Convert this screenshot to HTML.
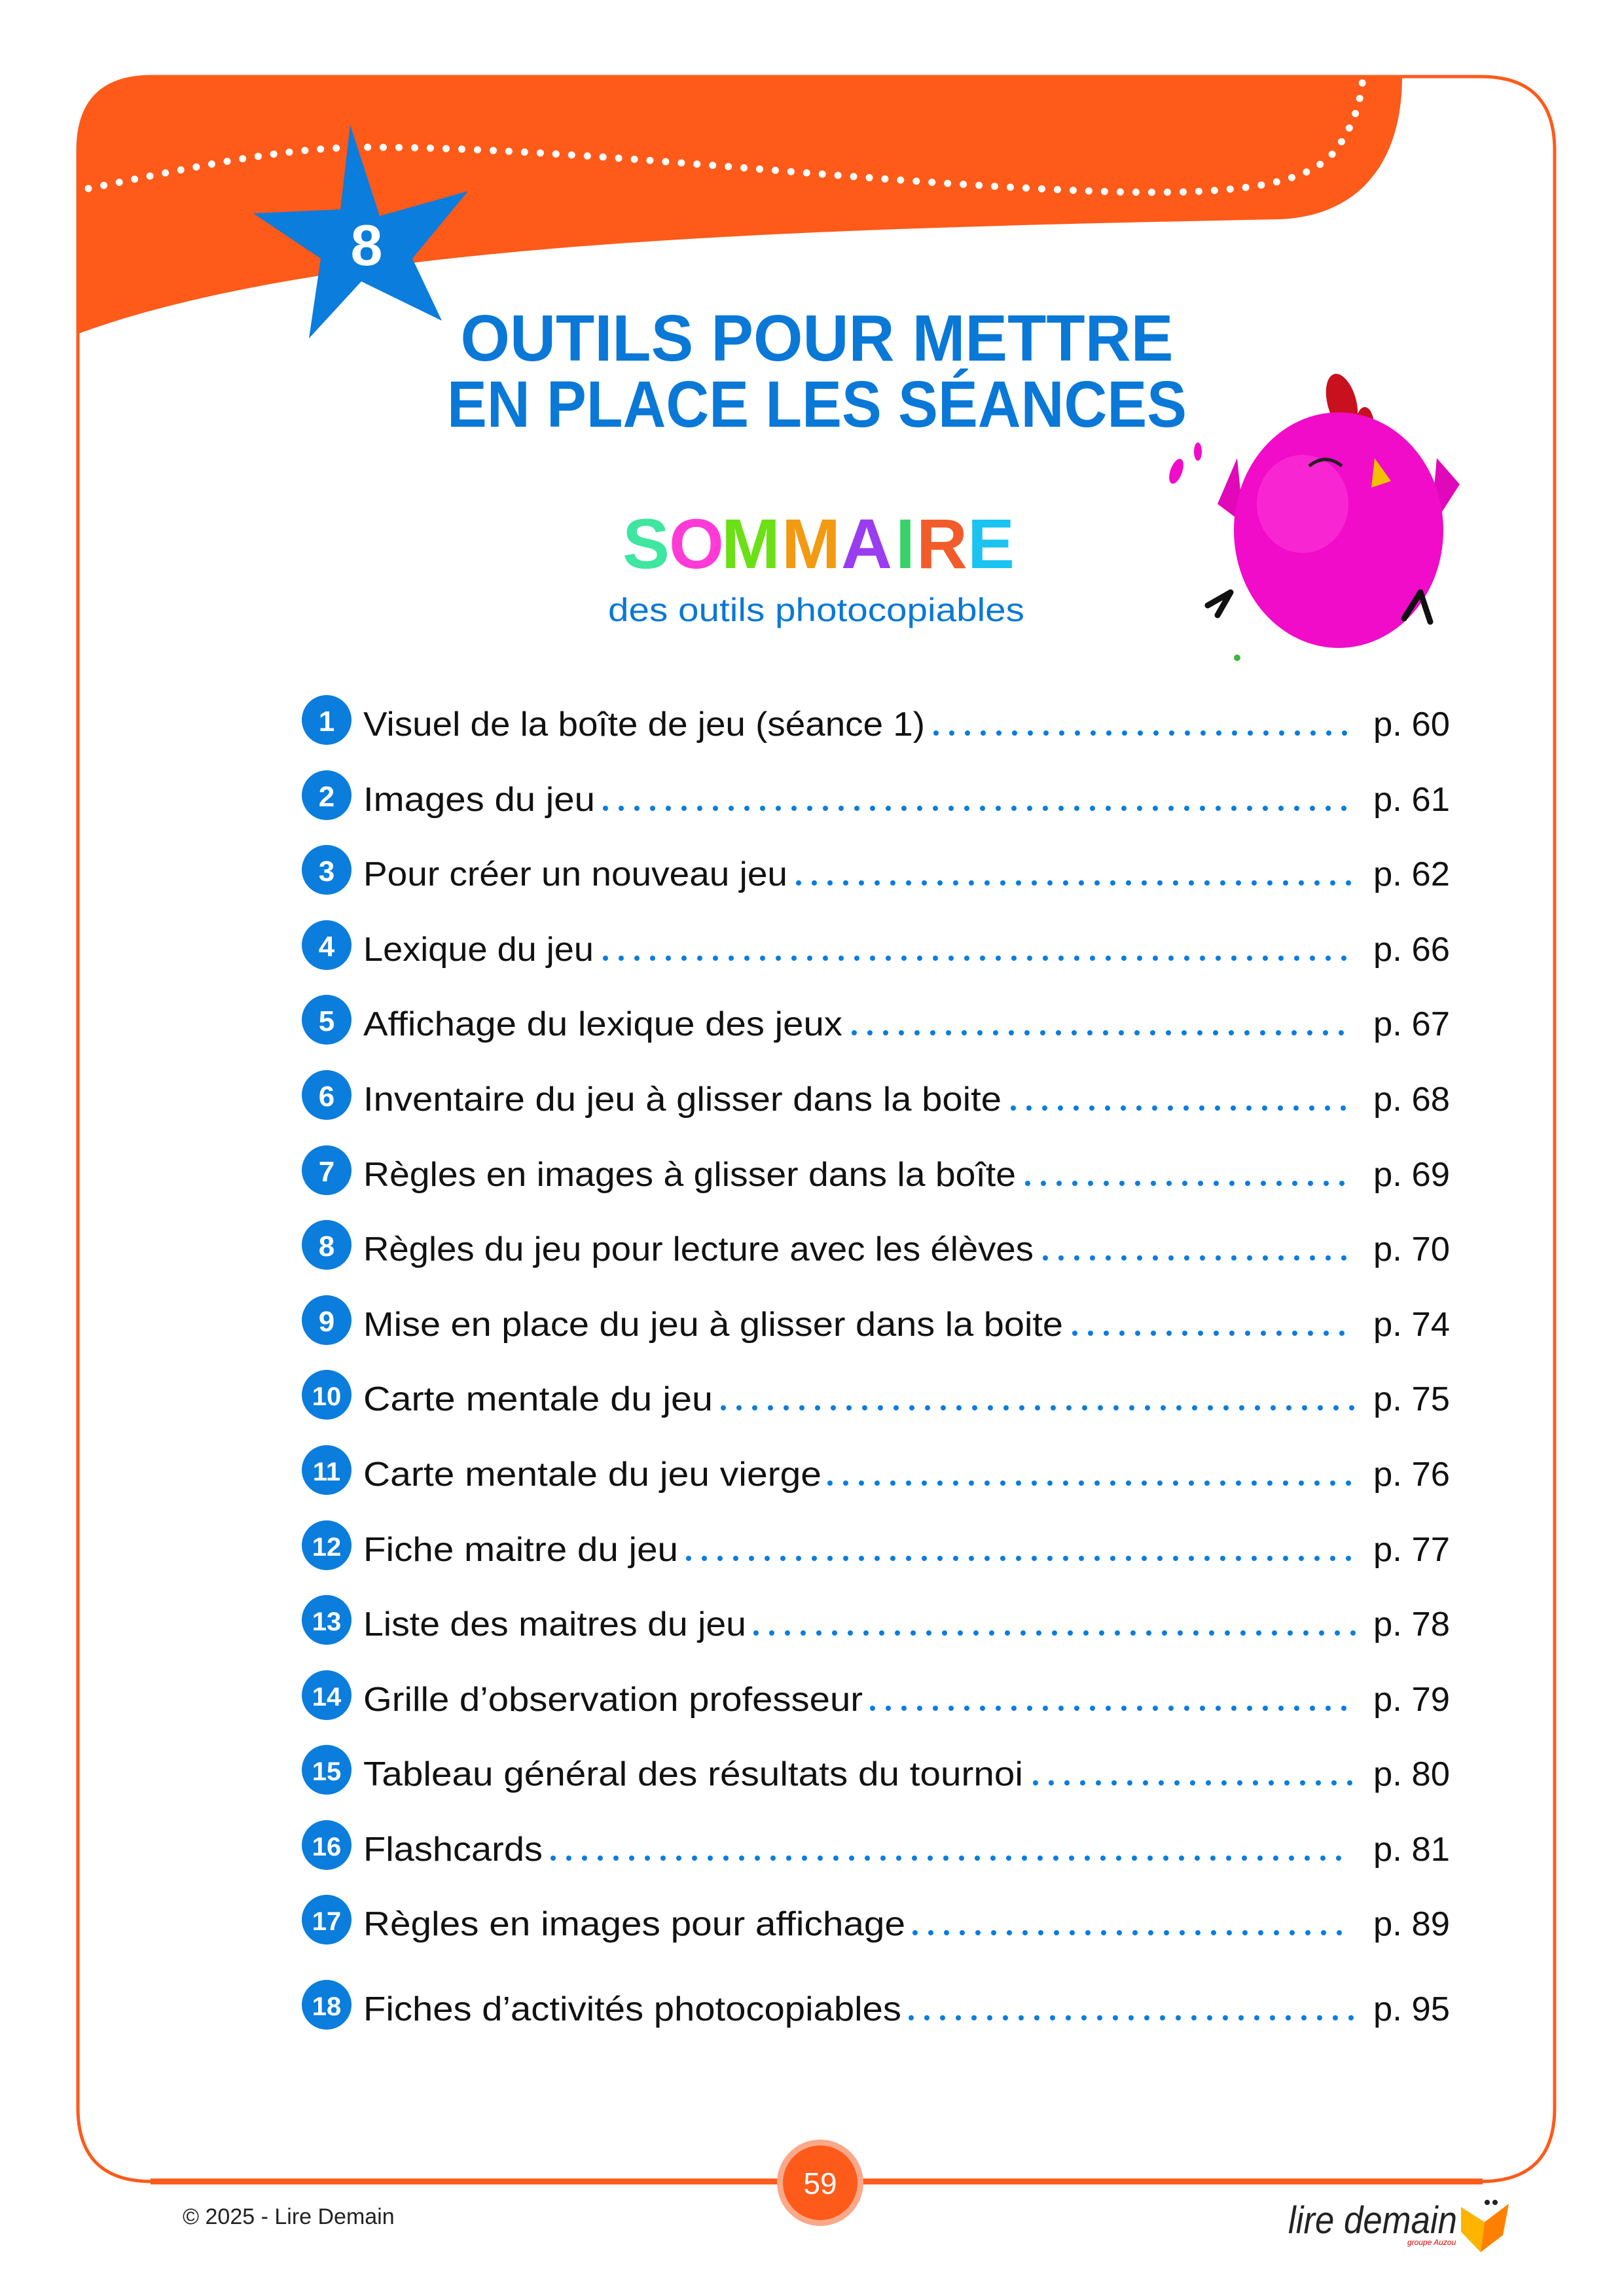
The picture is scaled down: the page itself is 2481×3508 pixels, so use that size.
<!DOCTYPE html>
<html><head><meta charset="utf-8"><style>
html,body{margin:0;padding:0;background:#fff}
svg{display:block}
</style></head><body>
<svg width="2481" height="3508" viewBox="0 0 2481 3508" xmlns="http://www.w3.org/2000/svg" font-family="Liberation Sans, sans-serif">
<rect width="2481" height="3508" fill="#fff"/>
<path d="M119,230 Q119,117 232,117 L2262,117 Q2375,117 2375,230 L2375,3220 Q2375,3333 2262,3333 L232,3333 Q119,3333 119,3220 Z" fill="none" stroke="#fe5a1a" stroke-width="5"/>
<line x1="230" y1="3333" x2="2265" y2="3333" stroke="#fe5a1a" stroke-width="9"/>
<path d="M119,230 Q119,117 232,117 L2142,117 C2142,250 2075,330 1955,335 C1200,350 500,370 119,510 Z" fill="#fe5a1a"/>
<path d="M135,288 C300,255 430,225 562,225 C900,225 1300,280 1700,293 C1900,298 2000,280 2040,230 C2070,190 2080,150 2082,117" fill="none" stroke="#fff" stroke-width="11" stroke-linecap="round" stroke-dasharray="0 24"/>
<polygon points="535,191 580,330 715,292 630,395 675,490 552,430 472,517 490,395 387,326 520,320" fill="#0a7ddd"/>
<text x="560" y="405" font-size="88" font-weight="bold" fill="#fff" text-anchor="middle">8</text>
<text x="1248" y="551" font-size="100" font-weight="bold" fill="#0a78d7" text-anchor="middle" textLength="1089" lengthAdjust="spacingAndGlyphs">OUTILS POUR METTRE</text>
<text x="1248" y="652" font-size="100" font-weight="bold" fill="#0a78d7" text-anchor="middle" textLength="1130" lengthAdjust="spacingAndGlyphs">EN PLACE LES SÉANCES</text>
<g font-size="108" font-weight="bold">
<text x="951" y="868" fill="#3ee6a0">S</text>
<text x="1022" y="868" fill="#ff3ad6">O</text>
<text x="1102" y="868" fill="#6be016">M</text>
<text x="1194" y="868" fill="#f29a12">M</text>
<text x="1285" y="868" fill="#9a3cf0">A</text>
<text x="1368" y="868" fill="#3bd16a">I</text>
<text x="1400" y="868" fill="#f25c2a">R</text>
<text x="1478" y="868" fill="#1bc3f0">E</text>
</g>
<text x="929" y="949" font-size="50" fill="#0a78d7" textLength="636" lengthAdjust="spacingAndGlyphs">des outils photocopiables</text>
<g>
<ellipse cx="2050" cy="615" rx="22" ry="45" fill="#c8101e" transform="rotate(-15 2050 615)"/>
<ellipse cx="2085" cy="650" rx="14" ry="28" fill="#c8101e"/>
<polygon points="1890,700 1860,770 1900,800" fill="#e008b8"/>
<polygon points="2195,700 2230,740 2185,810" fill="#e008b8"/>
<ellipse cx="2045" cy="810" rx="160" ry="180" fill="#f00cc8"/>
<ellipse cx="1990" cy="770" rx="70" ry="75" fill="#ff40dc" opacity="0.5"/>
<polygon points="2100,700 2125,735 2095,745" fill="#f2c000"/>
<path d="M2000,712 q25,-20 50,0" fill="none" stroke="#222" stroke-width="5"/>
<path d="M1880,905 l-35,20 m35,-20 l-20,35 M2170,905 l15,45 m-15,-45 l-25,40" stroke="#111" stroke-width="9" fill="none" stroke-linecap="round"/>
<ellipse cx="1797" cy="720" rx="9" ry="20" fill="#f00cc8" transform="rotate(20 1797 720)"/>
<ellipse cx="1830" cy="690" rx="6" ry="14" fill="#f00cc8"/>
<circle cx="1890" cy="1005" r="5" fill="#3bb83b"/>
</g>
<g>
<circle cx="499" cy="1100" r="38" fill="#0a7ddd"/><text x="499" y="1117" font-size="44" font-weight="bold" fill="#fff" text-anchor="middle">1</text>
<text x="555" y="1124" font-size="52" fill="#111" textLength="858" lengthAdjust="spacingAndGlyphs">Visuel de la boîte de jeu (séance 1)</text>
<line x1="1430" y1="1120" x2="2069" y2="1120" stroke="#0a7ddd" stroke-width="8" stroke-linecap="round" stroke-dasharray="0 24"/>
<text x="2098" y="1124" font-size="52" fill="#111" textLength="117" lengthAdjust="spacingAndGlyphs">p. 60</text>

<circle cx="499" cy="1215" r="38" fill="#0a7ddd"/><text x="499" y="1232" font-size="44" font-weight="bold" fill="#fff" text-anchor="middle">2</text>
<text x="555" y="1239" font-size="52" fill="#111" textLength="354" lengthAdjust="spacingAndGlyphs">Images du jeu</text>
<line x1="925" y1="1235" x2="2069" y2="1235" stroke="#0a7ddd" stroke-width="8" stroke-linecap="round" stroke-dasharray="0 24"/>
<text x="2098" y="1239" font-size="52" fill="#111" textLength="117" lengthAdjust="spacingAndGlyphs">p. 61</text>

<circle cx="499" cy="1329" r="38" fill="#0a7ddd"/><text x="499" y="1346" font-size="44" font-weight="bold" fill="#fff" text-anchor="middle">3</text>
<text x="555" y="1353" font-size="52" fill="#111" textLength="648" lengthAdjust="spacingAndGlyphs">Pour créer un nouveau jeu</text>
<line x1="1220" y1="1349" x2="2069" y2="1349" stroke="#0a7ddd" stroke-width="8" stroke-linecap="round" stroke-dasharray="0 24"/>
<text x="2098" y="1353" font-size="52" fill="#111" textLength="117" lengthAdjust="spacingAndGlyphs">p. 62</text>

<circle cx="499" cy="1444" r="38" fill="#0a7ddd"/><text x="499" y="1461" font-size="44" font-weight="bold" fill="#fff" text-anchor="middle">4</text>
<text x="555" y="1468" font-size="52" fill="#111" textLength="352" lengthAdjust="spacingAndGlyphs">Lexique du jeu</text>
<line x1="925" y1="1464" x2="2069" y2="1464" stroke="#0a7ddd" stroke-width="8" stroke-linecap="round" stroke-dasharray="0 24"/>
<text x="2098" y="1468" font-size="52" fill="#111" textLength="117" lengthAdjust="spacingAndGlyphs">p. 66</text>

<circle cx="499" cy="1558" r="38" fill="#0a7ddd"/><text x="499" y="1575" font-size="44" font-weight="bold" fill="#fff" text-anchor="middle">5</text>
<text x="555" y="1582" font-size="52" fill="#111" textLength="732" lengthAdjust="spacingAndGlyphs">Affichage du lexique des jeux</text>
<line x1="1305" y1="1578" x2="2069" y2="1578" stroke="#0a7ddd" stroke-width="8" stroke-linecap="round" stroke-dasharray="0 24"/>
<text x="2098" y="1582" font-size="52" fill="#111" textLength="117" lengthAdjust="spacingAndGlyphs">p. 67</text>

<circle cx="499" cy="1673" r="38" fill="#0a7ddd"/><text x="499" y="1690" font-size="44" font-weight="bold" fill="#fff" text-anchor="middle">6</text>
<text x="555" y="1697" font-size="52" fill="#111" textLength="975" lengthAdjust="spacingAndGlyphs">Inventaire du jeu à glisser dans la boite</text>
<line x1="1548" y1="1693" x2="2069" y2="1693" stroke="#0a7ddd" stroke-width="8" stroke-linecap="round" stroke-dasharray="0 24"/>
<text x="2098" y="1697" font-size="52" fill="#111" textLength="117" lengthAdjust="spacingAndGlyphs">p. 68</text>

<circle cx="499" cy="1788" r="38" fill="#0a7ddd"/><text x="499" y="1805" font-size="44" font-weight="bold" fill="#fff" text-anchor="middle">7</text>
<text x="555" y="1812" font-size="52" fill="#111" textLength="997" lengthAdjust="spacingAndGlyphs">Règles en images à glisser dans la boîte</text>
<line x1="1570" y1="1808" x2="2069" y2="1808" stroke="#0a7ddd" stroke-width="8" stroke-linecap="round" stroke-dasharray="0 24"/>
<text x="2098" y="1812" font-size="52" fill="#111" textLength="117" lengthAdjust="spacingAndGlyphs">p. 69</text>

<circle cx="499" cy="1902" r="38" fill="#0a7ddd"/><text x="499" y="1919" font-size="44" font-weight="bold" fill="#fff" text-anchor="middle">8</text>
<text x="555" y="1926" font-size="52" fill="#111" textLength="1024" lengthAdjust="spacingAndGlyphs">Règles du jeu pour lecture avec les élèves</text>
<line x1="1597" y1="1922" x2="2069" y2="1922" stroke="#0a7ddd" stroke-width="8" stroke-linecap="round" stroke-dasharray="0 24"/>
<text x="2098" y="1926" font-size="52" fill="#111" textLength="117" lengthAdjust="spacingAndGlyphs">p. 70</text>

<circle cx="499" cy="2017" r="38" fill="#0a7ddd"/><text x="499" y="2034" font-size="44" font-weight="bold" fill="#fff" text-anchor="middle">9</text>
<text x="555" y="2041" font-size="52" fill="#111" textLength="1069" lengthAdjust="spacingAndGlyphs">Mise en place du jeu à glisser dans la boite</text>
<line x1="1642" y1="2037" x2="2069" y2="2037" stroke="#0a7ddd" stroke-width="8" stroke-linecap="round" stroke-dasharray="0 24"/>
<text x="2098" y="2041" font-size="52" fill="#111" textLength="117" lengthAdjust="spacingAndGlyphs">p. 74</text>

<circle cx="499" cy="2131" r="38" fill="#0a7ddd"/><text x="499" y="2147" font-size="40" font-weight="bold" fill="#fff" text-anchor="middle">10</text>
<text x="555" y="2155" font-size="52" fill="#111" textLength="534" lengthAdjust="spacingAndGlyphs">Carte mentale du jeu</text>
<line x1="1105" y1="2151" x2="2069" y2="2151" stroke="#0a7ddd" stroke-width="8" stroke-linecap="round" stroke-dasharray="0 24"/>
<text x="2098" y="2155" font-size="52" fill="#111" textLength="117" lengthAdjust="spacingAndGlyphs">p. 75</text>

<circle cx="499" cy="2246" r="38" fill="#0a7ddd"/><text x="499" y="2262" font-size="40" font-weight="bold" fill="#fff" text-anchor="middle">11</text>
<text x="555" y="2270" font-size="52" fill="#111" textLength="700" lengthAdjust="spacingAndGlyphs">Carte mentale du jeu vierge</text>
<line x1="1268" y1="2266" x2="2069" y2="2266" stroke="#0a7ddd" stroke-width="8" stroke-linecap="round" stroke-dasharray="0 24"/>
<text x="2098" y="2270" font-size="52" fill="#111" textLength="117" lengthAdjust="spacingAndGlyphs">p. 76</text>

<circle cx="499" cy="2361" r="38" fill="#0a7ddd"/><text x="499" y="2377" font-size="40" font-weight="bold" fill="#fff" text-anchor="middle">12</text>
<text x="555" y="2385" font-size="52" fill="#111" textLength="481" lengthAdjust="spacingAndGlyphs">Fiche maitre du jeu</text>
<line x1="1052" y1="2381" x2="2069" y2="2381" stroke="#0a7ddd" stroke-width="8" stroke-linecap="round" stroke-dasharray="0 24"/>
<text x="2098" y="2385" font-size="52" fill="#111" textLength="117" lengthAdjust="spacingAndGlyphs">p. 77</text>

<circle cx="499" cy="2475" r="38" fill="#0a7ddd"/><text x="499" y="2491" font-size="40" font-weight="bold" fill="#fff" text-anchor="middle">13</text>
<text x="555" y="2499" font-size="52" fill="#111" textLength="585" lengthAdjust="spacingAndGlyphs">Liste des maitres du jeu</text>
<line x1="1155" y1="2495" x2="2069" y2="2495" stroke="#0a7ddd" stroke-width="8" stroke-linecap="round" stroke-dasharray="0 24"/>
<text x="2098" y="2499" font-size="52" fill="#111" textLength="117" lengthAdjust="spacingAndGlyphs">p. 78</text>

<circle cx="499" cy="2590" r="38" fill="#0a7ddd"/><text x="499" y="2606" font-size="40" font-weight="bold" fill="#fff" text-anchor="middle">14</text>
<text x="555" y="2614" font-size="52" fill="#111" textLength="763" lengthAdjust="spacingAndGlyphs">Grille d’observation professeur</text>
<line x1="1333" y1="2610" x2="2069" y2="2610" stroke="#0a7ddd" stroke-width="8" stroke-linecap="round" stroke-dasharray="0 24"/>
<text x="2098" y="2614" font-size="52" fill="#111" textLength="117" lengthAdjust="spacingAndGlyphs">p. 79</text>

<circle cx="499" cy="2704" r="38" fill="#0a7ddd"/><text x="499" y="2720" font-size="40" font-weight="bold" fill="#fff" text-anchor="middle">15</text>
<text x="555" y="2728" font-size="52" fill="#111" textLength="1008" lengthAdjust="spacingAndGlyphs">Tableau général des résultats du tournoi</text>
<line x1="1582" y1="2724" x2="2069" y2="2724" stroke="#0a7ddd" stroke-width="8" stroke-linecap="round" stroke-dasharray="0 24"/>
<text x="2098" y="2728" font-size="52" fill="#111" textLength="117" lengthAdjust="spacingAndGlyphs">p. 80</text>

<circle cx="499" cy="2819" r="38" fill="#0a7ddd"/><text x="499" y="2835" font-size="40" font-weight="bold" fill="#fff" text-anchor="middle">16</text>
<text x="555" y="2843" font-size="52" fill="#111" textLength="274" lengthAdjust="spacingAndGlyphs">Flashcards</text>
<line x1="845" y1="2839" x2="2069" y2="2839" stroke="#0a7ddd" stroke-width="8" stroke-linecap="round" stroke-dasharray="0 24"/>
<text x="2098" y="2843" font-size="52" fill="#111" textLength="117" lengthAdjust="spacingAndGlyphs">p. 81</text>

<circle cx="499" cy="2933" r="38" fill="#0a7ddd"/><text x="499" y="2949" font-size="40" font-weight="bold" fill="#fff" text-anchor="middle">17</text>
<text x="555" y="2957" font-size="52" fill="#111" textLength="828" lengthAdjust="spacingAndGlyphs">Règles en images pour affichage</text>
<line x1="1398" y1="2953" x2="2069" y2="2953" stroke="#0a7ddd" stroke-width="8" stroke-linecap="round" stroke-dasharray="0 24"/>
<text x="2098" y="2957" font-size="52" fill="#111" textLength="117" lengthAdjust="spacingAndGlyphs">p. 89</text>

<circle cx="499" cy="3063" r="38" fill="#0a7ddd"/><text x="499" y="3079" font-size="40" font-weight="bold" fill="#fff" text-anchor="middle">18</text>
<text x="555" y="3087" font-size="52" fill="#111" textLength="822" lengthAdjust="spacingAndGlyphs">Fiches d’activités photocopiables</text>
<line x1="1392" y1="3083" x2="2069" y2="3083" stroke="#0a7ddd" stroke-width="8" stroke-linecap="round" stroke-dasharray="0 24"/>
<text x="2098" y="3087" font-size="52" fill="#111" textLength="117" lengthAdjust="spacingAndGlyphs">p. 95</text>
</g>
<circle cx="1253" cy="3335" r="66" fill="#f9a98a"/>
<circle cx="1253" cy="3335" r="57" fill="#fe5a1a"/>
<text x="1253" y="3352" font-size="46" fill="#fff" text-anchor="middle">59</text>
<text x="279" y="3398" font-size="34" fill="#222">© 2025 - Lire Demain</text>
<text x="1968" y="3412" font-size="58" font-style="italic" fill="#222" textLength="258" lengthAdjust="spacingAndGlyphs">lire demain</text>
<text x="2150" y="3430" font-size="12" font-style="italic" fill="#d00">groupe Auzou</text>
<polygon points="2232,3372 2268,3395 2262,3441 2232,3410" fill="#ffb400"/>
<polygon points="2268,3395 2305,3367 2296,3415 2262,3441" fill="#ff8000"/>
<circle cx="2272" cy="3365" r="4" fill="#222"/><circle cx="2284" cy="3365" r="4" fill="#222"/>
</svg>
</body></html>
